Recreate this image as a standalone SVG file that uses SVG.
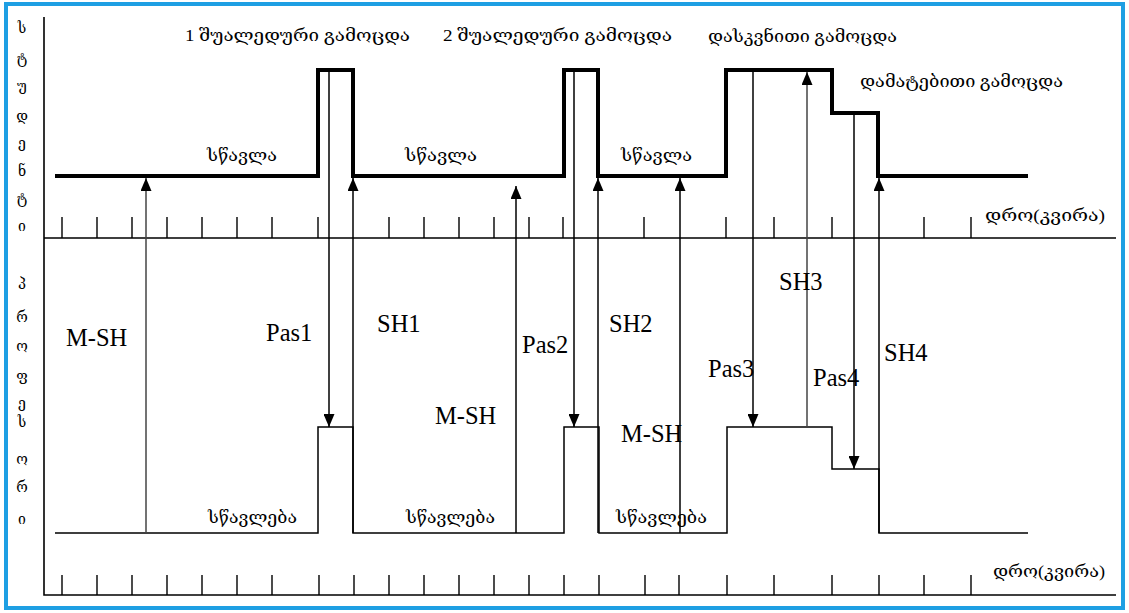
<svg xmlns="http://www.w3.org/2000/svg" width="1129" height="613" viewBox="0 0 1129 613">
<style>
.geo{font-family:"Liberation Serif","DejaVu Serif","DejaVu Sans",serif;font-size:16px;fill:#000}
.lat{font-family:'Liberation Serif','Times New Roman',Tinos,'DejaVu Serif',serif;font-size:24.5px;font-weight:normal;fill:#000}
.vert{font-family:"DejaVu Serif","DejaVu Sans",serif;font-size:14px;fill:#000;text-anchor:middle}
.axis{stroke:#000;stroke-width:1.6;fill:none}
.tick{stroke:#000;stroke-width:1.4}
.thick{stroke:#000;stroke-width:4;fill:none;stroke-linejoin:miter}
.thin{stroke:#000;stroke-width:1.5;fill:none}
.arr{stroke:#000;stroke-width:1.5;marker-end:url(#ah)}
.arrg{stroke:#444;stroke-width:1.5;marker-end:url(#ah)}
</style>
<defs>
<marker id="ah" markerUnits="userSpaceOnUse" markerWidth="13" markerHeight="11" viewBox="0 0 13 11" refX="13" refY="5.5" orient="auto">
<path d="M0,0 L13,5.5 L0,11 z" fill="#000"/>
</marker>
</defs>
<rect x="0" y="0" width="1129" height="613" fill="#fff"/>
<rect x="6" y="4" width="1117" height="604" fill="none" stroke="#1E9FE3" stroke-width="4"/>

<g id="axes">
<path class="axis" d="M44,17 V595 H1116 M44,238 H1116"/>
<g id="ticks-top" class="tick">
<path d="M62,217V238M97,217V238M132,217V238M167,217V238M202,217V238M237,217V238M272,217V238M318,217V238M389,217V238M424,217V238M459,217V238M494,217V238M529,217V238M563,217V238M644,217V238M726,217V238M774,217V238M832,217V238M924,217V238M971,217V238"/>
</g>
<g id="ticks-bottom" class="tick">
<path d="M62,575V595M97,575V595M132,575V595M167,575V595M202,575V595M237,575V595M272,575V595M319,575V595M354,575V595M389,575V595M424,575V595M459,575V595M494,575V595M529,575V595M564,575V595M599,575V595M645,575V595M679,575V595M727,575V595M774,575V595M832,575V595M879,575V595M924,575V595M971,575V595"/>
</g>
<text class="geo" x="985" y="221" textLength="120" lengthAdjust="spacingAndGlyphs">დრო(კვირა)</text>
<text class="geo" x="993" y="577" textLength="112" lengthAdjust="spacingAndGlyphs">დრო(კვირა)</text>
</g>

<g id="label-student">
<text class="vert" x="22" y="33">ს</text>
<text class="vert" x="22" y="64">ტ</text>
<text class="vert" x="22" y="91">უ</text>
<text class="vert" x="22" y="121">დ</text>
<text class="vert" x="22" y="148">ე</text>
<text class="vert" x="22" y="176">ნ</text>
<text class="vert" x="22" y="204">ტ</text>
<text class="vert" x="22" y="231">ი</text>
</g>
<g id="label-professor">
<text class="vert" x="22" y="289">პ</text>
<text class="vert" x="22" y="322">რ</text>
<text class="vert" x="22" y="351">ო</text>
<text class="vert" x="22" y="381">ფ</text>
<text class="vert" x="22" y="408">ე</text>
<text class="vert" x="22" y="427">ს</text>
<text class="vert" x="22" y="464">ო</text>
<text class="vert" x="22" y="492">რ</text>
<text class="vert" x="22" y="524">ი</text>
</g>

<g id="student-line">
<path class="thick" d="M55,176 H318 V70 H353 V176 H564 V70 H598 V176 H726 V70 H832 V113 H878 V176 H1028"/>
<text class="geo" x="207" y="161" textLength="70" lengthAdjust="spacingAndGlyphs">სწავლა</text>
<text class="geo" x="405" y="161" textLength="72" lengthAdjust="spacingAndGlyphs">სწავლა</text>
<text class="geo" x="621" y="161" textLength="71" lengthAdjust="spacingAndGlyphs">სწავლა</text>
</g>

<g id="professor-line">
<path class="thin" d="M55,533 H318 V427 H353 V533 H564 V427 H599 V533 H727 V427 H832 V469 H879 V533 H1028"/>
<text class="geo" x="208" y="523" textLength="89" lengthAdjust="spacingAndGlyphs">სწავლება</text>
<text class="geo" x="406" y="523" textLength="89" lengthAdjust="spacingAndGlyphs">სწავლება</text>
<text class="geo" x="616" y="523" textLength="91" lengthAdjust="spacingAndGlyphs">სწავლება</text>
</g>

<g id="exam-labels">
<text class="geo" x="185" y="41" textLength="225" lengthAdjust="spacingAndGlyphs">1 შუალედური გამოცდა</text>
<text class="geo" x="443" y="41" textLength="229" lengthAdjust="spacingAndGlyphs">2 შუალედური გამოცდა</text>
<text class="geo" x="708" y="42" textLength="189" lengthAdjust="spacingAndGlyphs">დასკვნითი გამოცდა</text>
<text class="geo" x="860" y="87" textLength="203" lengthAdjust="spacingAndGlyphs">დამატებითი გამოცდა</text>
</g>

<g id="connectors">
<line class="arrg" x1="146" y1="533" x2="146" y2="178"/>
<line class="arr" x1="329" y1="70" x2="329" y2="427"/>
<line class="arr" x1="353" y1="533" x2="353" y2="178"/>
<line class="arr" x1="516" y1="533" x2="516" y2="186"/>
<line class="arr" x1="574" y1="70" x2="574" y2="427"/>
<line class="arr" x1="598" y1="533" x2="598" y2="178"/>
<line class="arr" x1="680" y1="533" x2="680" y2="178"/>
<line class="arr" x1="753" y1="70" x2="753" y2="427"/>
<line class="arrg" x1="807" y1="427" x2="807" y2="72"/>
<line class="arr" x1="854" y1="113" x2="854" y2="469"/>
<line class="arr" x1="879" y1="533" x2="879" y2="178"/>
</g>

<g id="connector-labels">
<text class="lat" x="66" y="346">M-SH</text>
<text class="lat" x="266" y="341">Pas1</text>
<text class="lat" x="377" y="332">SH1</text>
<text class="lat" x="435" y="424">M-SH</text>
<text class="lat" x="522" y="353">Pas2</text>
<text class="lat" x="609" y="332">SH2</text>
<text class="lat" x="621" y="442">M-SH</text>
<text class="lat" x="708" y="377">Pas3</text>
<text class="lat" x="779" y="290">SH3</text>
<text class="lat" x="813" y="386">Pas4</text>
<text class="lat" x="884" y="361">SH4</text>
</g>
</svg>
